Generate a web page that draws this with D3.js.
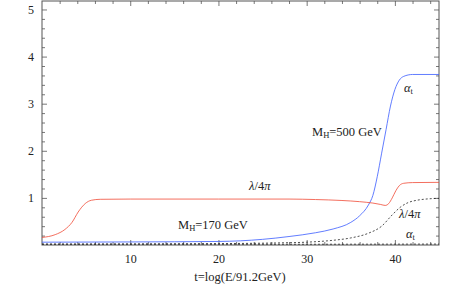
<!DOCTYPE html>
<html>
<head>
<meta charset="utf-8">
<script src="https://cdn.jsdelivr.net/npm/d3@7"></script>
<style>
  body { margin: 0; background: #fff; }
  text { font-family: "Liberation Serif", "DejaVu Serif", serif; fill: #222; }
</style>
</head>
<body>
<svg id="chart" width="463" height="286"></svg>
<script>
// couplings vs t = log(E/91.2 GeV)
var lambda170 = [[0,0.16],[1.5,0.22],[2.6,0.33],[3.4,0.48],[4.1,0.7],[4.9,0.88],[5.6,0.95],[6.6,0.97],
                 [10,0.975],[20,0.975],[28,0.975],[31,0.965],[34,0.945],[36,0.92],[37.5,0.89],[38.4,0.86],
                 [38.9,0.84],[39.3,0.88],[39.7,1.0],[40.1,1.15],[40.5,1.26],[41,1.31],[42,1.325],[45,1.33]];
var alpha500 = [[0,0.06],[10,0.065],[20,0.075],[25,0.12],[28,0.18],[31,0.26],[33,0.34],[35,0.48],
                [36,0.62],[37,0.85],[37.5,1.05],[38,1.45],[38.5,1.95],[39,2.45],[39.5,2.95],[40,3.3],
                [40.5,3.5],[41,3.58],[42,3.62],[45,3.62]];
var lambda500 = [[0,0.02],[20,0.03],[27,0.045],[30,0.06],[33,0.1],[35,0.15],[37,0.25],[38.5,0.4],
                 [39.7,0.64],[40.6,0.8],[41.5,0.9],[42.5,0.95],[43.5,0.975],[45,0.99]];
var alpha170 = [[0,0.015],[20,0.015],[35,0.017],[45,0.02]];

var xMajor = [10, 20, 30, 40];
var yMajor = [1, 2, 3, 4, 5];

var svg = d3.select("#chart");
var x = d3.scaleLinear().domain([0, 45]).range([42, 439]);
var y = d3.scaleLinear().domain([0, 5.18]).range([245, 1]);

var xMinor = d3.range(2, 45, 2).filter(function(v) { return v % 10 != 0; });
var yMinor = d3.range(0.2, 5.18, 0.2).filter(function(v) { return Math.abs(v - Math.round(v)) > 0.01; });

function styleAxis(g) {
    g.select(".domain").remove();
    g.selectAll(".tick line").attr("stroke", "#555").attr("stroke-width", 0.8);
    g.selectAll(".tick text").style("font-size", "12px").attr("fill", "#222");
}

// major ticks, labelled on bottom and left
svg.append("g").attr("transform", "translate(0,245)")
    .call(d3.axisBottom(x).tickValues(xMajor).tickSize(-5).tickPadding(9).tickFormat(d3.format("d")))
    .call(styleAxis);
svg.append("g").attr("transform", "translate(42,0)")
    .call(d3.axisLeft(y).tickValues(yMajor).tickSize(-5).tickPadding(8).tickFormat(d3.format("d")))
    .call(styleAxis);
svg.append("g").attr("transform", "translate(0,1)")
    .call(d3.axisTop(x).tickValues(xMajor).tickSize(-5).tickFormat(""))
    .call(styleAxis);
svg.append("g").attr("transform", "translate(439,0)")
    .call(d3.axisRight(y).tickValues(yMajor).tickSize(-5).tickFormat(""))
    .call(styleAxis);

// minor ticks
svg.append("g").attr("transform", "translate(0,245)")
    .call(d3.axisBottom(x).tickValues(xMinor).tickSize(-3).tickFormat("")).call(styleAxis);
svg.append("g").attr("transform", "translate(0,1)")
    .call(d3.axisTop(x).tickValues(xMinor).tickSize(-3).tickFormat("")).call(styleAxis);
svg.append("g").attr("transform", "translate(42,0)")
    .call(d3.axisLeft(y).tickValues(yMinor).tickSize(-3).tickFormat("")).call(styleAxis);
svg.append("g").attr("transform", "translate(439,0)")
    .call(d3.axisRight(y).tickValues(yMinor).tickSize(-3).tickFormat("")).call(styleAxis);

// frame
svg.append("rect")
    .attr("x", x(0)).attr("y", y(5.18))
    .attr("width", x(45) - x(0)).attr("height", y(0) - y(5.18))
    .attr("fill", "none").attr("stroke", "#555").attr("stroke-width", 1);

var line = d3.line()
    .x(function(d) { return x(d[0]); })
    .y(function(d) { return y(d[1]); })
    .curve(d3.curveMonotoneX);

var series = [
    { data: alpha170, color: "#222", dash: "2,2" },
    { data: lambda500, color: "#222", dash: "2,2" },
    { data: alpha500, color: "#3a5cff", dash: null },
    { data: lambda170, color: "#f04a36", dash: null }
];

svg.append("g").selectAll("path")
    .data(series)
    .enter()
    .append("path")
    .attr("d", function(d) { return line(d.data); })
    .attr("fill", "none")
    .attr("stroke", function(d) { return d.color; })
    .attr("stroke-width", 0.8)
    .attr("stroke-dasharray", function(d) { return d.dash; });

// curve labels
function label(px, py, parts) {
    var t = svg.append("text").attr("x", px).attr("y", py).style("font-size", "12.5px");
    parts.forEach(function(p) {
        var s = t.append("tspan").text(p.s);
        if (p.sub) s.attr("baseline-shift", "-25%").style("font-size", "8.5px");
        if (p.it) s.style("font-style", "italic");
    });
}

label(404, 92, [{ s: "α", it: true }, { s: "t", sub: true }]);
label(312, 136, [{ s: "M" }, { s: "H", sub: true }, { s: "=500 GeV" }]);
label(249, 190, [{ s: "λ", it: true }, { s: "/4" }, { s: "π", it: true }]);
label(178, 229, [{ s: "M" }, { s: "H", sub: true }, { s: "=170 GeV" }]);
label(399, 218, [{ s: "λ", it: true }, { s: "/4" }, { s: "π", it: true }]);
label(406, 238, [{ s: "α", it: true }, { s: "t", sub: true }]);

svg.append("text")
    .attr("x", 240).attr("y", 281)
    .attr("text-anchor", "middle")
    .style("font-size", "12.5px")
    .text("t=log(E/91.2GeV)");
</script>
</body>
</html>
